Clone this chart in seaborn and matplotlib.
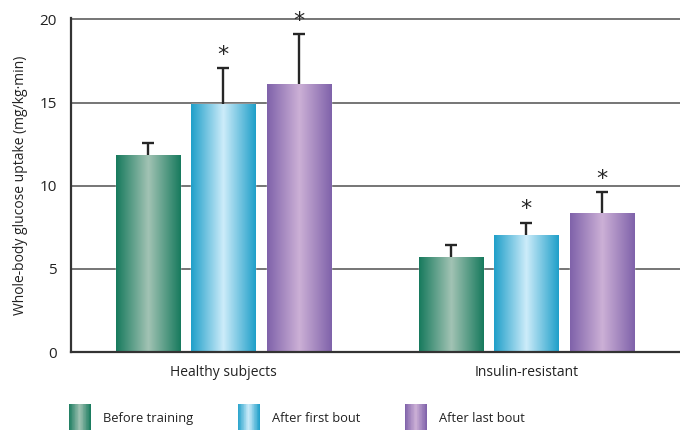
import numpy as np
import pandas as pd
import matplotlib
matplotlib.use("Agg")
import matplotlib.pyplot as plt
import seaborn as sns
from matplotlib.colors import LinearSegmentedColormap
from matplotlib.legend_handler import HandlerBase
from matplotlib.patches import Rectangle

# ---- data ----
groups = ["Healthy subjects", "Insulin-resistant"]
conditions = ["Before training", "After first bout", "After last bout"]
before_training = [11.84, 5.72]
after_first_bout = [14.9, 7.04]
after_last_bout = [16.1, 8.36]
err_before = [0.74, 0.72]
err_first = [2.18, 0.74]
err_last = [3.0, 1.24]
signif_before = [False, False]
signif_first = [True, True]
signif_last = [True, True]
y_ticks = [0, 5, 10, 15, 20]
y_label = "Whole-body glucose uptake (mg/kg·min)"

# gradient colours (edge, centre)
grad_colors = {
    "Before training": ("#177a5d", "#a2c3b4"),
    "After first bout": ("#1f9fc9", "#cdecfa"),
    "After last bout": ("#7f62aa", "#ccb0d6"),
}

values = {"Before training": before_training, "After first bout": after_first_bout,
          "After last bout": after_last_bout}
errors = {"Before training": err_before, "After first bout": err_first,
          "After last bout": err_last}
signif = {"Before training": signif_before, "After first bout": signif_first,
          "After last bout": signif_last}

df = pd.DataFrame([{"group": g, "condition": c, "value": values[c][i]}
                   for c in conditions for i, g in enumerate(groups)])

sns.set_style("white")
plt.rcParams["font.family"] = ["Open Sans", "DejaVu Sans"]

fig = plt.figure(figsize=(6.8, 4.3), dpi=100)
ax = fig.add_axes([0.104, 0.181, 0.896, 0.777])

palette = {c: grad_colors[c][0] for c in conditions}
sns.barplot(data=df, x="group", y="value", hue="condition", order=groups,
            hue_order=conditions, palette=palette, width=0.747, gap=0.15,
            errorbar=None, legend=False, ax=ax, zorder=2)

def make_cmap(c):
    edge, centre = grad_colors[c]
    return LinearSegmentedColormap.from_list(c, [edge, centre, edge])

grad = np.linspace(0, 1, 256).reshape(1, -1)

for c, cont in zip(conditions, ax.containers):
    cmap = make_cmap(c)
    xs, ys = [], []
    for i, bar in enumerate(cont):
        x0, w, h = bar.get_x(), bar.get_width(), bar.get_height()
        im = ax.imshow(grad, cmap=cmap, aspect="auto",
                       extent=[x0, x0 + w, 0, h], zorder=2.5,
                       interpolation="bilinear")
        im.set_clip_path(bar)
        xs.append(x0 + w / 2)
        ys.append(h)
    eb = ax.errorbar(xs, ys, yerr=[np.zeros(len(ys)), errors[c]], fmt="none",
                     ecolor="#262626", elinewidth=1.7, capsize=4.2, capthick=1.7,
                     zorder=3)
    # hide the lower caps (only upward error bars)
    eb[1][0].set_visible(False)
    for x, y, e, s in zip(xs, ys, errors[c], signif[c]):
        if s:
            ax.annotate("*", (x, y + e), xytext=(0, 2.5), textcoords="offset points",
                        ha="center", va="bottom", fontsize=16, color="#262626",
                        family="DejaVu Sans")

ax.set_xlim(-0.503, 1.507)
ax.set_ylim(0, 20.08)
ax.set_yticks(y_ticks)
ax.yaxis.grid(True, color="#6a6a6a", linewidth=1.3)
ax.xaxis.grid(False)
ax.set_axisbelow(True)
for s in ["top", "right"]:
    ax.spines[s].set_visible(False)
for s in ["left", "bottom"]:
    ax.spines[s].set_color("#333333")
    ax.spines[s].set_linewidth(1.6)
ax.tick_params(axis="both", length=0, labelsize=10, colors="#222222")
ax.tick_params(axis="y", pad=10, labelsize=11)
ax.tick_params(axis="x", pad=9)
ax.set_xlabel("")
ax.set_ylabel(y_label, fontsize=10, color="#222222", labelpad=8)


class HandlerGradient(HandlerBase):
    def __init__(self, cond):
        super().__init__()
        self.cond = cond

    def create_artists(self, legend, orig_handle, xdescent, ydescent, width,
                       height, fontsize, trans):
        cmap = make_cmap(self.cond)
        n = 30
        arts = []
        for k in range(n):
            r = Rectangle((-xdescent + width * k / n, -ydescent - 5), width / n + 0.2,
                          height + 10, facecolor=cmap((k + 0.5) / n),
                          edgecolor="none", transform=trans)
            arts.append(r)
        return arts


handles = [Rectangle((0, 0), 1, 1) for _ in conditions]
leg = fig.legend(handles, conditions, loc="center left",
                 bbox_to_anchor=(0.084, 0.028), ncol=3, frameon=False,
                 fontsize=9.3, handlelength=1.7, handleheight=1.0,
                 handletextpad=0.95, columnspacing=3.45,
                 handler_map={h: HandlerGradient(c) for h, c in zip(handles, conditions)})
for t in leg.get_texts():
    t.set_color("#222222")

fig.savefig("out.png", dpi=100)
